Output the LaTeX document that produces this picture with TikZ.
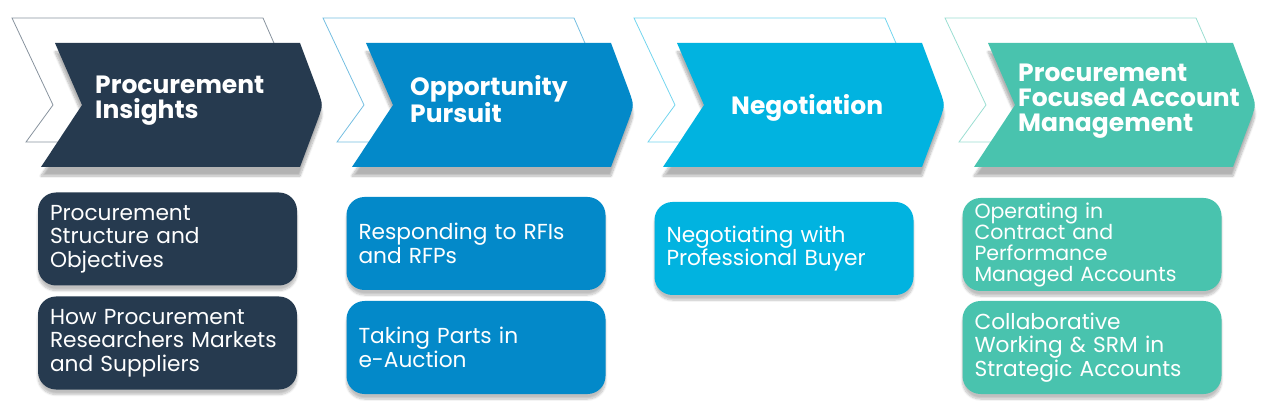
\documentclass[tikz,border=0pt]{standalone}
\usepackage{fontspec}
\setmainfont{Poppins}
\usetikzlibrary{shadows.blur}

\definecolor{navy}{HTML}{263A4F}
\definecolor{ocean}{HTML}{0389C9}
\definecolor{sky}{HTML}{01B3E0}
\definecolor{mint}{HTML}{49C3AE}

\tikzset{
    phase/.style={text=white, font=\fontsize{25}{25}\selectfont\bfseries,
        align=left, anchor=west, inner sep=0pt},
    topic/.style={rounded corners=18pt, minimum width=259pt, minimum height=93pt,
        text width=235pt, inner xsep=12pt, align=left, text=white,
        font=\fontsize{21.7}{23.5}\selectfont,
        blur shadow={shadow xshift=0pt, shadow yshift=-5pt, shadow opacity=25, shadow blur steps=8}},
    arrowshadow/.style={blur shadow={shadow xshift=0pt, shadow yshift=-9pt, shadow opacity=30, shadow blur steps=10}}
}

\begin{document}
\begin{tikzpicture}[x=1pt, y=-1pt]
    \useasboundingbox (0,0) rectangle (1282,403);

    % Phase arrows with their outlines behind
    \foreach \x/\col in {55/navy, 366/ocean, 677/sky, 988/mint} {
        \draw[\col!55, line width=0.8pt] (\x-43,18) -- (\x+208,18) -- (\x+246,105)
            -- (\x+230,142) -- (\x-29,142) -- (\x-2,105) -- cycle;
        \fill[\col, arrowshadow] (\x,43) -- (\x+245,43) -- (\x+263,91)
            .. controls (\x+268,105) .. (\x+263,119) -- (\x+245,167)
            -- (\x-14,167) -- (\x+27,105) -- cycle;
    }

    % Phase titles
    \node[phase] (insights) at (95,101) {Procurement\\Insights};
    \node[phase] (pursuit) at (410,99) {Opportunity\\Pursuit};
    \node[phase] (negotiation) at (731,108) {Negotiation};
    \node[phase] (accounts) at (1018,101) {Procurement\\Focused Account\\Management};

    % Topic boxes
    \node[topic, fill=navy] (structure) at (167.5,239) {Procurement\\Structure and\\Objectives};
    \node[topic, fill=navy] (markets) at (167.5,343) {How Procurement\\Researchers Markets\\and Suppliers};
    \node[topic, fill=ocean] (rfis) at (476,243.5) {Responding to RFIs\\and RFPs};
    \node[topic, fill=ocean] (auction) at (476,347.5) {Taking Parts in\\e-Auction};
    \node[topic, fill=sky] (buyer) at (784,248.5) {Negotiating with\\Professional Buyer};
    \node[topic, fill=mint, font=\fontsize{20.5}{21}\selectfont] (contract) at (1092,244.5)
        {Operating in\\Contract and\\Performance\\Managed Accounts};
    \node[topic, fill=mint] (strategic) at (1092,347.5) {Collaborative\\Working \& SRM in\\Strategic Accounts};
\end{tikzpicture}
\end{document}
